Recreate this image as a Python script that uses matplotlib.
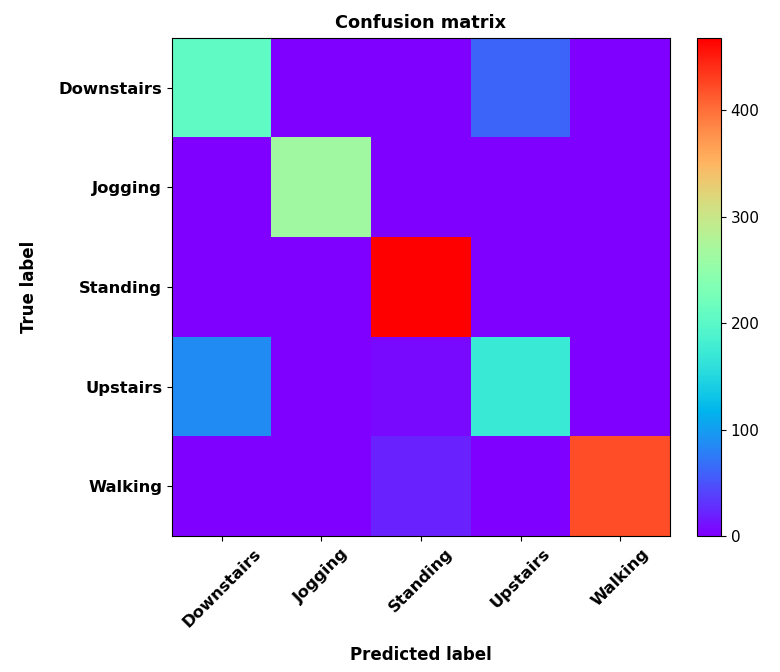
import numpy as np
import matplotlib.pyplot as plt

# ─────────────────────────────────────────────────────────────
# Data
# ─────────────────────────────────────────────────────────────
classes = ['Downstairs', 'Jogging', 'Standing', 'Upstairs', 'Walking']
row_downstairs = [206, 0, 0, 61, 0]
row_jogging    = [0, 265, 0, 0, 0]
row_standing   = [0, 0, 468, 0, 0]
row_upstairs   = [87, 0, 7, 171, 0]
row_walking    = [0, 0, 21, 0, 421]
cbar_ticks     = [0, 100, 200, 300, 400]

cm = np.array([row_downstairs, row_jogging, row_standing, row_upstairs, row_walking])

# ─────────────────────────────────────────────────────────────
# Figure
# ─────────────────────────────────────────────────────────────
fig = plt.figure(figsize=(7.8, 6.72), dpi=100)
ax  = fig.add_axes([172/780, 136/672, 498/780, 498/672])
cax = fig.add_axes([697/780, 136/672, 24/780, 498/672])

im = ax.imshow(cm, interpolation='nearest', cmap='rainbow', aspect='auto')
cb = fig.colorbar(im, cax=cax)
cb.set_ticks(cbar_ticks)
cb.ax.tick_params(labelsize=11)

ax.set_title('Confusion matrix', fontsize=12.8, fontweight='bold', pad=7)
tick_marks = np.arange(len(classes))
ax.set_xticks(tick_marks)
ax.set_xticklabels(classes, rotation=45, fontsize=11.8, fontweight='bold')
ax.set_yticks(tick_marks)
ax.set_yticklabels(classes, fontsize=11.8, fontweight='bold')
ax.set_ylabel('True label', fontsize=12, fontweight='bold', labelpad=15)
ax.set_xlabel('Predicted label', fontsize=12, fontweight='bold', labelpad=12)

fig.savefig('out.png', dpi=100)
